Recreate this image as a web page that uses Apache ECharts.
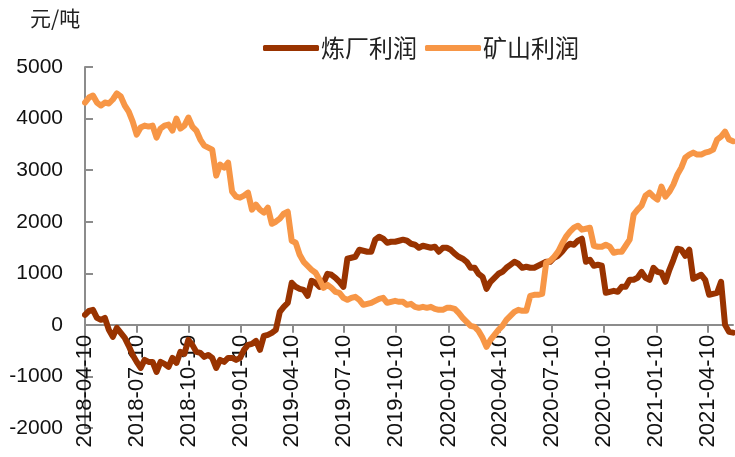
<!DOCTYPE html>
<html>
<head>
<meta charset="utf-8">
<script src="https://cdn.jsdelivr.net/npm/echarts@6/dist/echarts.min.js"></script>
<style>
  html, body { margin: 0; padding: 0; background: #fff; }
  #chart { width: 735px; height: 457px; }
</style>
</head>
<body>
<div id="chart"></div>
<script>
// 起始日期，每周取一个值
const startDate = "2018-04-10";
const dayCount = 1142;
const sampleStep = 7;
const quarterMarks = ["-01-10", "-04-10", "-07-10", "-10-10"];

// 炼厂利润（元/吨），每周
const refinery = [
  194, 272, 291, 136, 97, 136, -97, -233, -58, -155,
  -252, -408, -583, -718, -835, -680, -718, -718, -913, -718,
  -757, -816, -641, -738, -524, -563, -291, -388, -524, -544,
  -621, -583, -641, -835, -680, -718, -641, -641, -680, -641,
  -485, -388, -369, -311, -485, -214, -194, -155, -97, 252,
  350, 427, 816, 738, 699, 680, 563, 854, 816, 738,
  816, 990, 971, 913, 835, 738, 1282, 1301, 1320, 1456,
  1437, 1418, 1418, 1651, 1709, 1670, 1592, 1612, 1612, 1631,
  1651, 1631, 1573, 1554, 1495, 1534, 1515, 1495, 1515, 1418,
  1495, 1495, 1456, 1379, 1320, 1282, 1223, 1107, 1107, 990,
  932, 699, 835, 913, 990, 1029, 1107, 1165, 1223, 1184,
  1107, 1126, 1107, 1107, 1146, 1184, 1223, 1223, 1301, 1340,
  1418, 1515, 1573, 1554, 1631, 1670, 1223, 1262, 1146, 1165,
  1146, 621, 641, 660, 641, 738, 738, 874, 874, 913,
  1029, 913, 874, 1107, 1029, 1010, 835, 1068, 1262, 1476,
  1456, 1340, 1456, 893, 932, 971, 874, 583, 602, 621,
  835, 0, -136, -150
];

// 矿山利润（元/吨），每周
const mine = [
  4311, 4408, 4447, 4311, 4253, 4311, 4292, 4370, 4486, 4428,
  4253, 4136, 3942, 3690, 3826, 3864, 3845, 3864, 3632, 3806,
  3864, 3884, 3767, 4000, 3806, 3864, 4020, 3845, 3767, 3593,
  3476, 3437, 3398, 2894, 3107, 3049, 3146, 2583, 2486, 2466,
  2505, 2564, 2233, 2330, 2233, 2175, 2272, 1961, 2000, 2059,
  2156, 2194, 1631, 1592, 1359, 1223, 1146, 1068, 1010, 874,
  718, 777, 718, 641, 621, 524, 485, 524, 544, 485,
  388, 408, 427, 466, 505, 524, 427, 447, 466, 447,
  447, 388, 408, 350, 330, 350, 330, 350, 311, 291,
  291, 330, 330, 311, 233, 136, 58, -19, -39, -117,
  -252, -427, -291, -194, -97, -19, 97, 175, 252, 291,
  272, 272, 563, 583, 583, 602, 1204, 1243, 1320, 1418,
  1573, 1709, 1806, 1884, 1923, 1845, 1864, 1884, 1534, 1515,
  1515, 1554, 1515, 1398, 1418, 1418, 1534, 1651, 2136, 2233,
  2311, 2505, 2564, 2486, 2428, 2680, 2486, 2583, 2719, 2913,
  3049, 3243, 3301, 3340, 3301, 3301, 3340, 3360, 3398, 3593,
  3651, 3748, 3593, 3560
];

const yTicks = { min: -2000, max: 5000, interval: 1000 };

// 日期类目（逐日）
const dates = [];
const t0 = Date.parse(startDate + "T00:00:00Z");
for (let d = 0; d < dayCount; d++) {
  dates.push(new Date(t0 + d * 86400000).toISOString().slice(0, 10));
}
const isQuarter = (i, v) => quarterMarks.some((m) => v.endsWith(m));
const toPairs = (vals) => vals.map((v, i) => [dates[i * sampleStep], v]);

const gridTop = 67;
const gridBottom = 29;
const plotH = 457 - gridTop - gridBottom;
// x 轴放到 0 线上
const zeroOffset = -plotH * (0 - yTicks.min) / (yTicks.max - yTicks.min);

const font = "'Liberation Sans', 'Noto Sans CJK SC', sans-serif";
const cjkFont = "'Noto Sans CJK SC', sans-serif";
const chart = echarts.init(document.getElementById("chart"));
chart.setOption({
  animation: false,
  backgroundColor: "#fff",
  textStyle: { fontFamily: font },
  graphic: [
    {
      type: "text",
      x: 30,
      y: 8,
      style: {
        text: "元/吨",
        fontSize: 21,
        fill: "#222",
        fontFamily: cjkFont,
        verticalAlign: "top",
      },
    },
  ],
  legend: {
    left: 258,
    top: 31,
    itemWidth: 56,
    itemHeight: 6,
    itemGap: 8,
    icon: "roundRect",
    textStyle: { fontSize: 24, color: "#222", fontFamily: cjkFont, padding: [0, 0, 0, -3] },
    data: ["炼厂利润", "矿山利润"],
  },
  grid: { left: 85, right: 2, top: gridTop, bottom: gridBottom, containLabel: false, outerBoundsMode: "none" },
  xAxis: {
    type: "category",
    data: dates,
    boundaryGap: false,
    offset: zeroOffset,
    axisLine: { onZero: false, lineStyle: { color: "#8c8c8c", width: 2 } },
    axisTick: { interval: isQuarter, length: 8, lineStyle: { color: "#8c8c8c", width: 2 } },
    axisLabel: {
      interval: isQuarter,
      rotate: 90,
      margin: 10,
      fontSize: 22,
      color: "#111",
    },
    splitLine: { show: false },
  },
  yAxis: {
    type: "value",
    min: yTicks.min,
    max: yTicks.max,
    interval: yTicks.interval,
    axisLine: { show: true, lineStyle: { color: "#8c8c8c", width: 2 } },
    axisTick: { show: true, inside: true, length: 8, lineStyle: { color: "#8c8c8c", width: 2 } },
    axisLabel: { fontSize: 21, color: "#111", margin: 22, formatter: (v) => String(v) },
    splitLine: { show: false },
  },
  series: [
    {
      name: "炼厂利润",
      type: "line",
      data: toPairs(refinery),
      showSymbol: false,
      itemStyle: { color: "#993300" },
      lineStyle: { color: "#993300", width: 6, cap: "round", join: "round" },
      z: 2,
    },
    {
      name: "矿山利润",
      type: "line",
      data: toPairs(mine),
      showSymbol: false,
      itemStyle: { color: "#F79646" },
      lineStyle: { color: "#F79646", width: 6, cap: "round", join: "round" },
      z: 3,
    },
  ],
});
</script>
</body>
</html>
